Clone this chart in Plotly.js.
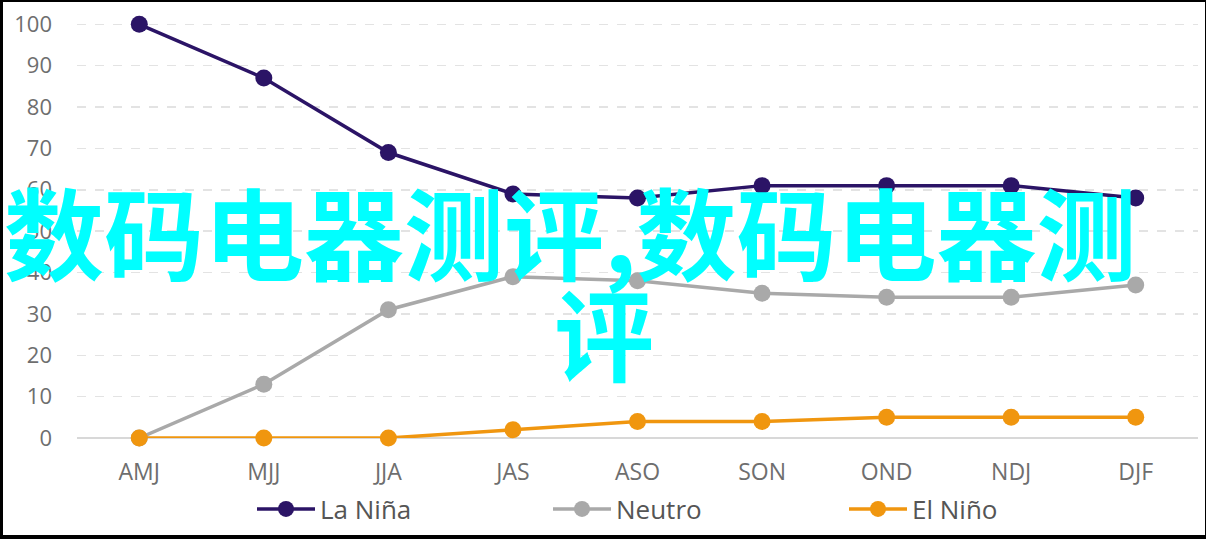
<!DOCTYPE html>
<html>
<head>
<meta charset="utf-8">
<script src="https://cdn.plot.ly/plotly-3.0.1.min.js"></script>
<style>
  html, body { margin:0; padding:0; background:#fff; }
  #wrap { position:relative; width:1206px; height:539px; overflow:hidden; }
  #chart { width:1206px; height:539px; }
  #frame { position:absolute; left:0; top:0; width:1206px; height:539px; box-sizing:border-box;
           border-style:solid; border-color:#000; border-width:2px 1px 4px 3px; pointer-events:none; }
</style>
</head>
<body>
<div id="wrap">
  <div id="chart"></div>
  <div id="frame"></div>
</div>
<script>
const categories = ["AMJ","MJJ","JJA","JAS","ASO","SON","OND","NDJ","DJF"];
const laNina = [100, 87, 69, 59, 58, 61, 61, 61, 58];
const neutro = [0, 13, 31, 39, 38, 35, 34, 34, 37];
const elNino = [0, 0, 0, 2, 4, 4, 5, 5, 5];
const seriesNames = ["La Niña", "Neutro", "El Niño"];
const yTicks = [0,10,20,30,40,50,60,70,80,90,100];
const overlayLine1 = "数码电器测评,数码电器测";
const overlayLine2 = "评";

const colors = ["#2b1466", "#a9a9a9", "#f0960f"];
const seriesData = [laNina, neutro, elNino];

const traces = seriesData.map((vals, i) => ({
  x: categories,
  y: vals,
  name: seriesNames[i],
  type: "scatter",
  mode: "lines+markers",
  line: { color: colors[i], width: 3.5 },
  marker: { color: colors[i], size: 17 },
  cliponaxis: false
}));
// draw order: Neutro below La Niña; El Niño on top
const ordered = [traces[1], traces[0], traces[2]];
ordered.forEach((t, k) => { t.legendrank = [2,1,3][k]; });

const layout = {
  width: 1206,
  height: 539,
  margin: { l: 77, r: 8, t: 16, b: 101 },
  paper_bgcolor: "#ffffff",
  plot_bgcolor: "#ffffff",
  font: { family: "Open Sans, sans-serif", color: "#6e6e6e" },
  showlegend: true,
  legend: {
    orientation: "h",
    xref: "container", yref: "container",
    x: 252 / 1206, xanchor: "left",
    y: 1 - 509 / 539, yanchor: "middle",
    font: { size: 26, color: "#555555" },
    itemwidth: 58,
    entrywidth: 223,
    traceorder: "normal",
    bgcolor: "rgba(0,0,0,0)"
  },
  xaxis: {
    type: "category",
    range: [-0.5, 8.5],
    showgrid: false,
    zeroline: false,
    showline: false,
    ticks: "",
    tickfont: { size: 23, color: "#6e6e6e" },
    ticklabelstandoff: 18,
    fixedrange: true
  },
  yaxis: {
    range: [0, 102],
    tickvals: yTicks,
    ticktext: yTicks.map(String),
    showgrid: true,
    gridcolor: "#e3e3e3",
    gridwidth: 1.5,
    griddash: "dash",
    zeroline: true,
    zerolinecolor: "#d8d8d8",
    zerolinewidth: 1.5,
    showline: false,
    ticks: "",
    tickfont: { size: 22, color: "#6e6e6e" },
    ticklabelstandoff: 24,
    fixedrange: true
  },
  annotations: [
    {
      text: overlayLine1,
      xref: "paper", yref: "paper",
      x: (570 - 77) / 1121, y: (438 - 229) / 422.3,
      xanchor: "center", yanchor: "middle",
      showarrow: false,
      font: { family: "Noto Sans CJK SC", size: 100, color: "#00ffff", weight: 700 }
    },
    {
      text: overlayLine2,
      xref: "paper", yref: "paper",
      x: (604 - 77) / 1121, y: (438 - 330) / 422.3,
      xanchor: "center", yanchor: "middle",
      showarrow: false,
      font: { family: "Noto Sans CJK SC", size: 100, color: "#00ffff", weight: 700 }
    }
  ]
};

Plotly.newPlot("chart", ordered, layout, { displayModeBar: false, staticPlot: true });
</script>
</body>
</html>
